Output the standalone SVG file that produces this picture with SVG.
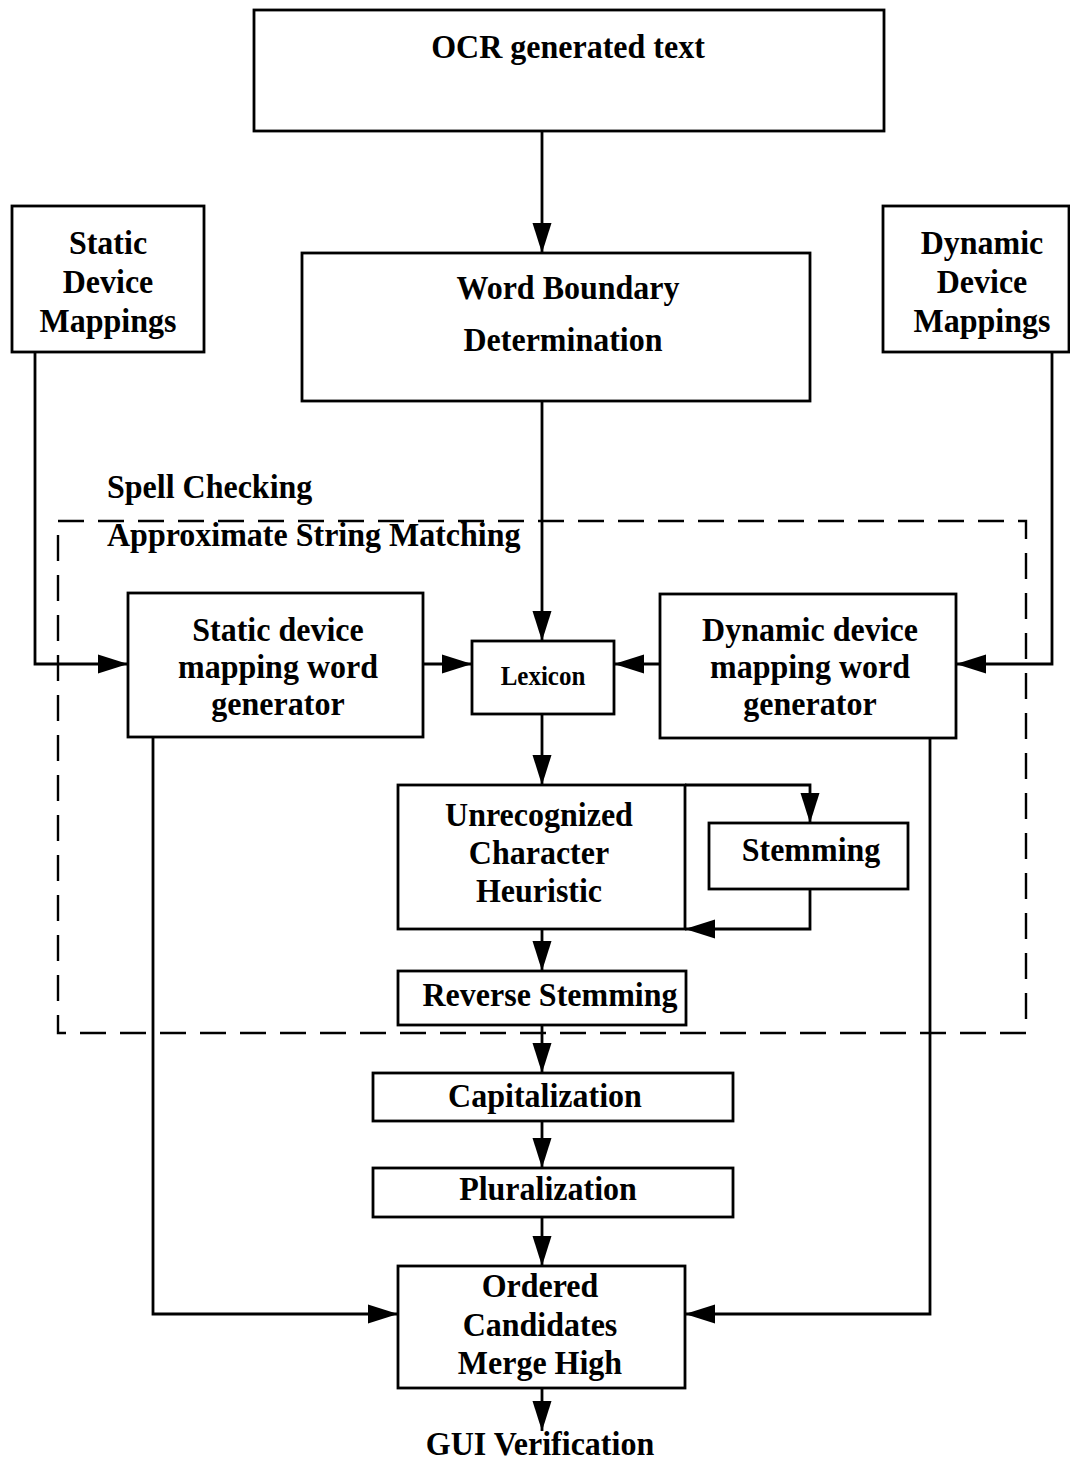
<svg xmlns="http://www.w3.org/2000/svg" width="1070" height="1463" viewBox="0 0 1070 1463">
  <style>
    .box { fill: #fff; stroke: #000; stroke-width: 2.8; }
    .arrow { fill: none; stroke: #000; stroke-width: 2.8; marker-end: url(#head); }
    .dash { fill: none; stroke: #000; stroke-width: 2.4; stroke-dasharray: 26 14; }
    text { font-family: "Liberation Serif", "Times New Roman", serif; font-weight: bold; font-size: 32px; fill: #000;
           transform-box: fill-box; transform-origin: 50% 75%; transform: scaleY(1.08); }
    .c { text-anchor: middle; }
    .small { font-size: 25px; }
  </style>
  <defs>
    <marker id="head" markerUnits="userSpaceOnUse" markerWidth="30" markerHeight="20" refX="30" refY="10" orient="auto">
      <path d="M0,0.5 L30,10 L0,19.5 Z" fill="#000"/>
    </marker>
  </defs>

  <!-- Spell checking region -->
  <g id="spell-checking">
    <rect class="dash" x="58" y="521" width="968" height="512"/>
    <text x="107" y="498">Spell Checking</text>
    <text x="107" y="546">Approximate String Matching</text>
  </g>

  <!-- Connectors -->
  <g id="connectors">
    <path class="arrow" d="M542,131 V253"/>
    <path class="arrow" d="M542,401 V641"/>
    <path class="arrow" d="M35,352 V664 H128"/>
    <path class="arrow" d="M1052,352 V664 H956"/>
    <path class="arrow" d="M423,664 H472"/>
    <path class="arrow" d="M660,664 H614"/>
    <path class="arrow" d="M542,714 V785"/>
    <path class="arrow" d="M685,785 H810 V823"/>
    <path class="arrow" d="M810,889 V929 H685"/>
    <path class="arrow" d="M542,929 V971"/>
    <path class="arrow" d="M542,1025 V1073"/>
    <path class="arrow" d="M542,1121 V1168"/>
    <path class="arrow" d="M542,1217 V1266"/>
    <path class="arrow" d="M153,737 V1314 H398"/>
    <path class="arrow" d="M930,738 V1314 H685"/>
    <path class="arrow" d="M542,1388 V1431"/>
  </g>

  <g id="ocr">
    <rect class="box" x="254" y="10" width="630" height="121"/>
    <text class="c" x="568" y="58">OCR generated text</text>
  </g>

  <g id="static-mappings">
    <rect class="box" x="12" y="206" width="192" height="146"/>
    <text class="c" x="108" y="254">Static</text>
    <text class="c" x="108" y="293">Device</text>
    <text class="c" x="108" y="332">Mappings</text>
  </g>

  <g id="dynamic-mappings">
    <rect class="box" x="883" y="206" width="186" height="146"/>
    <text class="c" x="982" y="254">Dynamic</text>
    <text class="c" x="982" y="293">Device</text>
    <text class="c" x="982" y="332">Mappings</text>
  </g>

  <g id="word-boundary">
    <rect class="box" x="302" y="253" width="508" height="148"/>
    <text class="c" x="568" y="299">Word Boundary</text>
    <text class="c" x="563" y="351">Determination</text>
  </g>

  <g id="static-generator">
    <rect class="box" x="128" y="593" width="295" height="144"/>
    <text class="c" x="278" y="641">Static device</text>
    <text class="c" x="278" y="678">mapping word</text>
    <text class="c" x="278" y="715">generator</text>
  </g>

  <g id="lexicon">
    <rect class="box" x="472" y="641" width="142" height="73"/>
    <text class="c small" x="543" y="685">Lexicon</text>
  </g>

  <g id="dynamic-generator">
    <rect class="box" x="660" y="594" width="296" height="144"/>
    <text class="c" x="810" y="641">Dynamic device</text>
    <text class="c" x="810" y="678">mapping word</text>
    <text class="c" x="810" y="715">generator</text>
  </g>

  <g id="unrecognized">
    <rect class="box" x="398" y="785" width="287" height="144"/>
    <text class="c" x="539" y="826">Unrecognized</text>
    <text class="c" x="539" y="864">Character</text>
    <text class="c" x="539" y="902">Heuristic</text>
  </g>

  <g id="stemming">
    <rect class="box" x="709" y="823" width="199" height="66"/>
    <text class="c" x="811" y="861">Stemming</text>
  </g>

  <g id="reverse-stemming">
    <rect class="box" x="398" y="971" width="288" height="54"/>
    <text class="c" x="550" y="1006">Reverse Stemming</text>
  </g>

  <g id="capitalization">
    <rect class="box" x="373" y="1073" width="360" height="48"/>
    <text class="c" x="545" y="1107">Capitalization</text>
  </g>

  <g id="pluralization">
    <rect class="box" x="373" y="1168" width="360" height="49"/>
    <text class="c" x="548" y="1200">Pluralization</text>
  </g>

  <g id="ordered-candidates">
    <rect class="box" x="398" y="1266" width="287" height="122"/>
    <text class="c" x="540" y="1297">Ordered</text>
    <text class="c" x="540" y="1336">Candidates</text>
    <text class="c" x="540" y="1374">Merge High</text>
  </g>

  <g id="gui-verification">
    <text class="c" x="540" y="1455">GUI Verification</text>
  </g>
</svg>
